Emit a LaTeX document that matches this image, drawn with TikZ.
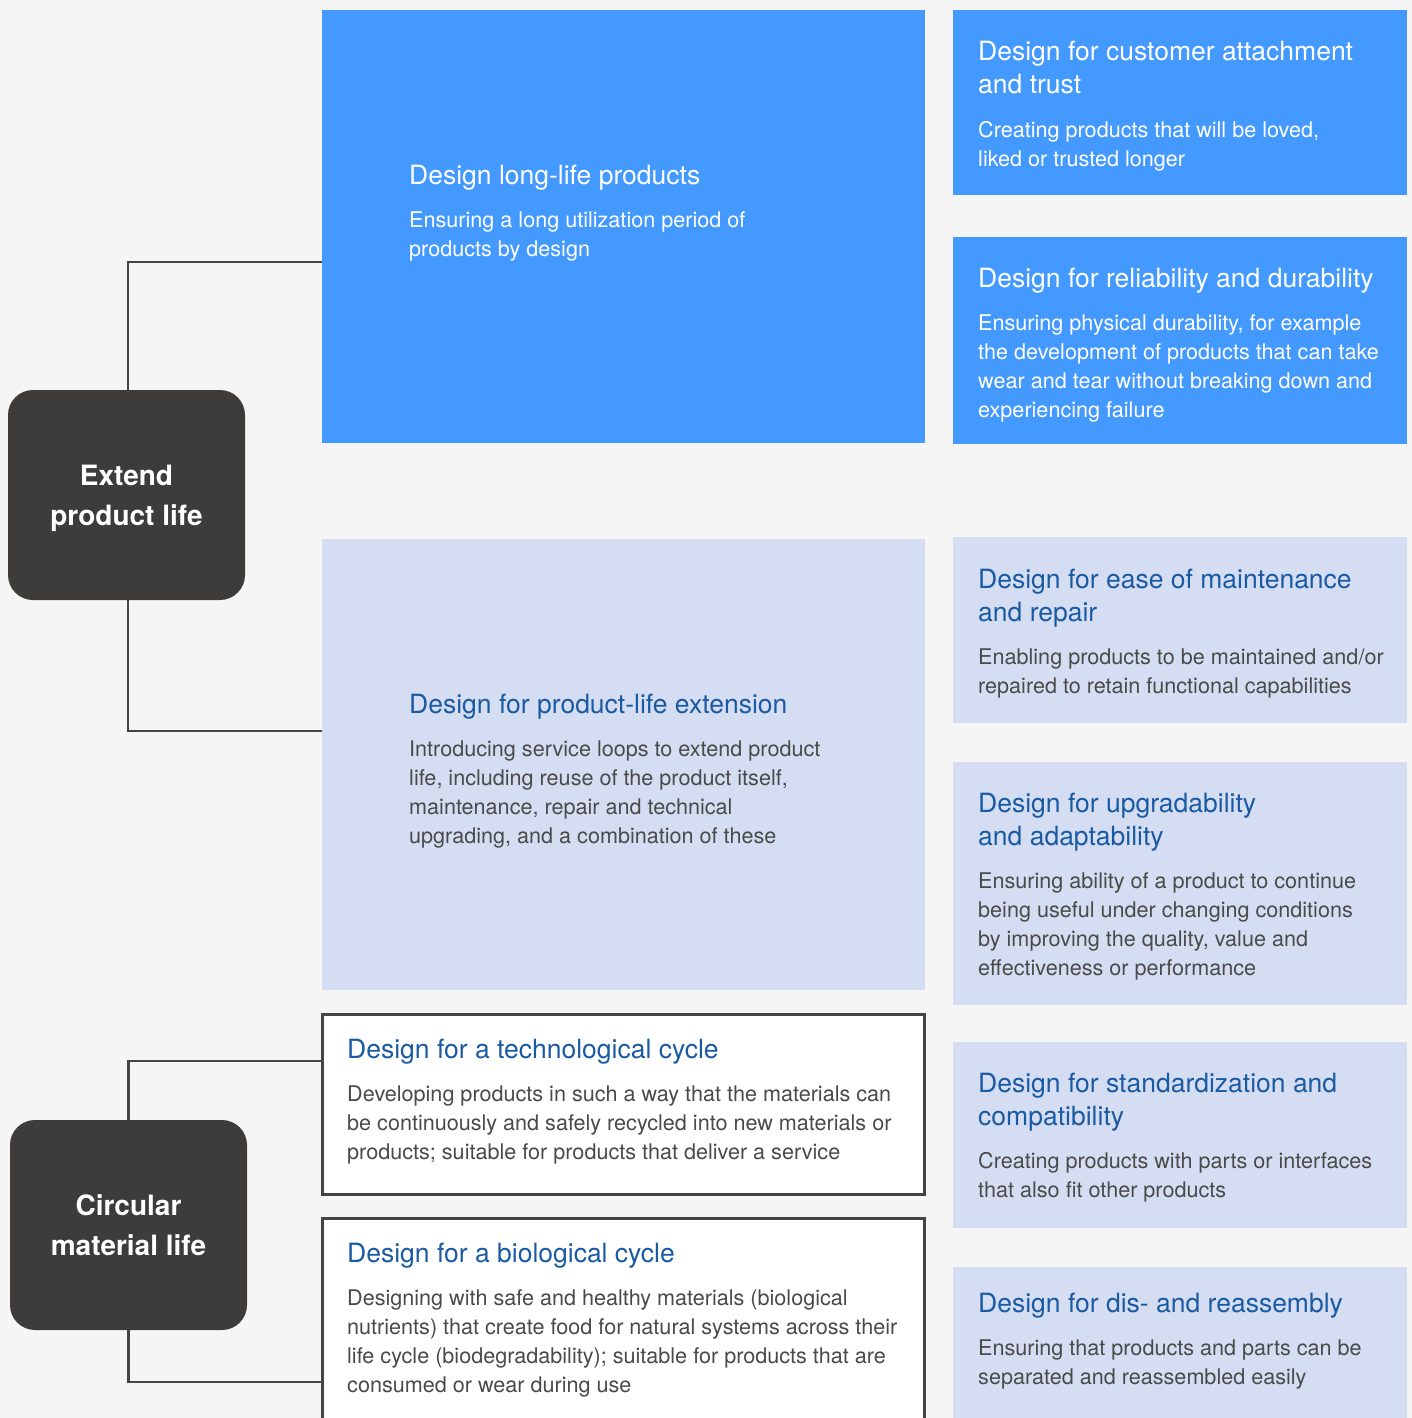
\documentclass[tikz,border=0pt]{standalone}
\usepackage{fontspec}
\setmainfont{TeX Gyre Heros}
\definecolor{bg}{HTML}{F5F5F5}
\definecolor{vivid}{HTML}{4499FF}
\definecolor{pale}{HTML}{D4DDF1}
\definecolor{darkbox}{HTML}{3D3C3A}
\definecolor{ttlblue}{HTML}{1A5AA3}
\definecolor{bodygray}{HTML}{4A4A4A}
\definecolor{linegray}{HTML}{444444}
\newcommand{\cardtext}[4]{\parbox[t]{600pt}{\raggedright\leavevmode\color{#1}\fontsize{26.5pt}{33pt}\selectfont #2\par\vspace{15pt}{\leavevmode\color{#3}\fontsize{21.6pt}{28.8pt}\selectfont #4\par}}}
\begin{document}
\begin{tikzpicture}[x=1pt,y=-1pt,
  card/.style={anchor=north west, inner sep=0pt, outer sep=0pt},
  vividcard/.style={card, fill=vivid},
  palecard/.style={card, fill=pale},
  framecard/.style={card, fill=white, draw=linegray, line width=3pt},
  groupbox/.style={card, fill=darkbox, rounded corners=25pt, text=white,
    font=\bfseries\fontsize{28pt}{40pt}\selectfont, align=center, text depth=0pt,
    minimum width=237pt, minimum height=210pt},
  txt/.style={anchor=base west, inner sep=0pt},
  link/.style={draw=linegray, line width=2.7pt}
]
\useasboundingbox (0,0) rectangle (1412,1418);
\clip (0,0) rectangle (1412,1418);
\fill[bg] (0,0) rectangle (1412,1418);

% group boxes
\node[groupbox] (ext) at (8,390) {Extend\\product life};
\node[groupbox] (cml) at (10,1120) {Circular\\material life};

% middle column
\node[vividcard, minimum width=603pt, minimum height=433pt] (long) at (322,10) {};
\node[palecard, minimum width=603pt, minimum height=451pt] (ple) at (322,539) {};
\node[framecard, minimum width=602pt, minimum height=180.5pt] (tech) at (322,1014) {};
\node[framecard, minimum width=602pt, minimum height=250pt] (bio) at (322,1218) {};

% right column
\node[vividcard, minimum width=454pt, minimum height=185pt] (r1) at (953,10) {};
\node[vividcard, minimum width=454pt, minimum height=207pt] (r2) at (953,237) {};
\node[palecard, minimum width=454pt, minimum height=186pt] (r3) at (953,537) {};
\node[palecard, minimum width=454pt, minimum height=243pt] (r4) at (953,762) {};
\node[palecard, minimum width=454pt, minimum height=186pt] (r5) at (953,1042) {};
\node[palecard, minimum width=454pt, minimum height=170pt] (r6) at (953,1267) {};

% connectors
\draw[link] ([xshift=1.5pt]ext.north) |- ([yshift=-252pt]long.north west);
\draw[link] ([xshift=1.5pt]ext.south) |- ([yshift=-192pt]ple.north west);
\draw[link] (cml.north) |- ([yshift=-47pt]tech.north west);
\draw[link] (cml.south) |- ([yshift=-164pt]bio.north west);

% texts
\node[txt] (longT) at ([shift={(87,174)}]long.north west)
  {\cardtext{white}{Design long-life products}{white}{Ensuring a long utilization period of\\products by design}};
\node[txt] (pleT) at ([shift={(87,174)}]ple.north west)
  {\cardtext{ttlblue}{Design for product-life extension}{bodygray}{Introducing service loops to extend product\\life, including reuse of the product itself,\\maintenance, repair and technical\\upgrading, and a combination of these}};
\node[txt] (techT) at ([shift={(25,44)}]tech.north west)
  {\cardtext{ttlblue}{Design for a technological cycle}{bodygray}{Developing products in such a way that the materials can\\be continuously and safely recycled into new materials or\\products; suitable for products that deliver a service}};
\node[txt] (bioT) at ([shift={(25,44)}]bio.north west)
  {\cardtext{ttlblue}{Design for a biological cycle}{bodygray}{Designing with safe and healthy materials (biological\\nutrients) that create food for natural systems across their\\life cycle (biodegradability); suitable for products that are\\consumed or wear during use}};
\node[txt] (r1T) at ([shift={(25,51)}]r1.north west)
  {\cardtext{white}{Design for customer attachment\\and trust}{white}{Creating products that will be loved,\\liked or trusted longer}};
\node[txt] (r2T) at ([shift={(25,50)}]r2.north west)
  {\cardtext{white}{Design for reliability and durability}{white}{Ensuring physical durability, for example\\the development of products that can take\\wear and tear without breaking down and\\experiencing failure}};
\node[txt] (r3T) at ([shift={(25,51)}]r3.north west)
  {\cardtext{ttlblue}{Design for ease of maintenance\\and repair}{bodygray}{Enabling products to be maintained and/or\\repaired to retain functional capabilities}};
\node[txt] (r4T) at ([shift={(25,50)}]r4.north west)
  {\cardtext{ttlblue}{Design for upgradability\\and adaptability}{bodygray}{Ensuring ability of a product to continue\\being useful under changing conditions\\by improving the quality, value and\\effectiveness or performance}};
\node[txt] (r5T) at ([shift={(25,50)}]r5.north west)
  {\cardtext{ttlblue}{Design for standardization and\\compatibility}{bodygray}{Creating products with parts or interfaces\\that also fit other products}};
\node[txt] (r6T) at ([shift={(25,45)}]r6.north west)
  {\cardtext{ttlblue}{Design for dis- and reassembly}{bodygray}{Ensuring that products and parts can be\\separated and reassembled easily}};
\end{tikzpicture}
\end{document}
